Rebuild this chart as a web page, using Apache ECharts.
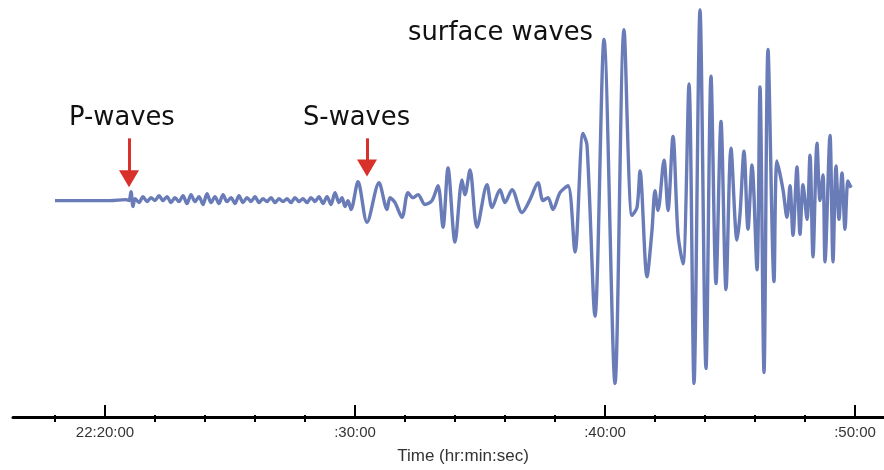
<!DOCTYPE html>
<html><head><meta charset="utf-8">
<script src="https://cdn.jsdelivr.net/npm/echarts/dist/echarts.min.js"></script>
<style>html,body{margin:0;padding:0;background:#fff}#c{width:884px;height:470px}</style>
</head><body><div id="c"></div>
<script>
// time in minutes after 22:00:00
const timeMin = [
18.00,19.40,20.20,20.84,20.96,21.04,21.12,21.20,21.36,21.52,21.68,21.84,22.00,22.16,22.32,22.48,22.64,22.80,22.96,23.12,
23.28,23.44,23.60,23.76,23.92,24.08,24.24,24.40,24.56,24.72,24.88,25.04,25.20,25.36,25.52,25.68,25.84,26.00,26.16,26.32,
26.48,26.64,26.80,26.96,27.12,27.28,27.44,27.60,27.76,27.92,28.08,28.24,28.40,28.56,28.72,28.88,29.04,29.20,29.36,29.48,
29.60,29.72,29.84,30.12,30.48,30.96,31.28,31.40,31.60,31.88,32.12,32.32,32.52,32.80,33.08,33.32,33.52,33.72,34.00,34.28,
34.40,34.60,34.88,35.28,35.48,35.80,36.00,36.28,36.68,37.00,37.32,37.52,37.72,37.92,38.20,38.52,38.80,39.12,39.28,39.60,
39.96,40.40,40.76,41.08,41.28,41.40,41.68,41.88,42.00,42.12,42.36,42.52,42.72,42.92,43.12,43.36,43.56,43.80,44.04,44.24,
44.44,44.64,44.84,45.04,45.28,45.40,45.56,45.72,45.88,46.08,46.20,46.36,46.52,46.76,46.88,47.12,47.28,47.40,47.52,47.68,
47.80,47.92,48.08,48.20,48.32,48.48,48.60,48.72,48.80,49.00,49.12,49.24,49.36,49.48,49.60,49.72,49.84
];
const amplitude = [
0,0,0,1,0,9,-6,2,-2,4,-1,3,0,5,0,4,-2,3,-1,5,
-3,6,-1,4,-4,7,-2,4,-3,6,-1,3,-3,5,-2,3,-1,4,-2,2,
-1,3,-2,2,-1,2,-2,3,-1,2,-2,3,-1,4,-3,4,-4,8,-2,3,
-6,0,-9,19,-22,18,-9,3,-2,-17,8,3,6,-4,0,15,-27,33,-42,21,
6,31,-27,16,-7,11,-2,11,-12,1,18,0,3,-9,8,15,-52,68,56,-117,
163,-185,173,-15,-7,30,-77,-30,10,-10,41,-10,65,-34,-64,118,-185,193,-170,126,
-84,80,-90,53,-40,-14,50,-29,36,-70,115,-174,153,-82,40,11,-17,15,-35,34,
-34,16,-19,46,-57,58,0,26,-62,66,-62,35,-19,28,-29,20,13
];
const majorTicks = [20, 30, 40, 50];
const majorLabels = ['22:20:00', ':30:00', ':40:00', ':50:00'];
const minorTicks = [18, 22, 24, 26, 28, 32, 34, 36, 38, 42, 44, 46, 48];
const arrowTimes = [20.96, 30.48];
const arrowFrom = [63, 63];
const arrowTo = [22, 33];
const phaseNames = ['P-waves', 'S-waves', 'surface waves'];

const chart = echarts.init(document.getElementById('c'), null, {renderer: 'canvas'});
const xMin = 16.32, xMax = 51.16;
const gridRect = {left: 13, right: 0, top: 0, bottom: 48};
const textFont = '25.8px "DejaVu Sans"';
chart.setOption({
  animation: false,
  backgroundColor: '#ffffff',
  grid: [Object.assign({}, gridRect), Object.assign({}, gridRect)],
  xAxis: [{
    type: 'value', gridIndex: 0, min: xMin, max: xMax,
    axisLine: {show: true, onZero: false, lineStyle: {color: '#000', width: 3}},
    axisTick: {show: true, inside: true, length: 12, lineStyle: {color: '#000', width: 2}, customValues: majorTicks},
    axisLabel: {customValues: majorTicks, formatter: v => majorLabels[majorTicks.indexOf(v)],
      color: '#333', fontSize: 15, fontFamily: 'Liberation Sans', margin: 8},
    splitLine: {show: false},
    name: 'Time (hr:min:sec)', nameLocation: 'middle', nameGap: 31,
    nameTextStyle: {fontSize: 17, color: '#333', fontFamily: 'Liberation Sans', padding: [0, 0, 0, 29]}
  }, {
    type: 'value', gridIndex: 1, min: xMin, max: xMax,
    axisLine: {show: false, onZero: false},
    axisTick: {show: true, inside: true, length: 7, lineStyle: {color: '#000', width: 2}, customValues: minorTicks},
    axisLabel: {show: false},
    splitLine: {show: false}
  }],
  yAxis: [
    {type: 'value', gridIndex: 0, min: -219, max: 203, show: false},
    {type: 'value', gridIndex: 1, min: -219, max: 203, show: false}
  ],
  graphic: [
    {type: 'text', style: {text: phaseNames[0], x: 69, y: 118, font: textFont, fill: '#111', textVerticalAlign: 'middle'}},
    {type: 'text', style: {text: phaseNames[1], x: 303, y: 118, font: textFont, fill: '#111', textVerticalAlign: 'middle'}},
    {type: 'text', style: {text: phaseNames[2], x: 408, y: 33, font: textFont, fill: '#111', textVerticalAlign: 'middle'}}
  ],
  series: [{
    type: 'line', xAxisIndex: 0, yAxisIndex: 0,
    data: timeMin.map((t, i) => [t, amplitude[i]]),
    showSymbol: false, smooth: 0.3,
    lineStyle: {color: '#6a7cb8', width: 3.4},
    markLine: {
      silent: true, animation: false,
      symbol: ['none', 'triangle'], symbolSize: [20, 17],
      label: {show: false},
      lineStyle: {color: '#d8302b', width: 3, type: 'solid'},
      itemStyle: {color: '#d8302b'},
      data: arrowTimes.map((t, i) => [{coord: [t, arrowFrom[i]]}, {coord: [t, arrowTo[i]]}])
    }
  }]
});
</script></body></html>
